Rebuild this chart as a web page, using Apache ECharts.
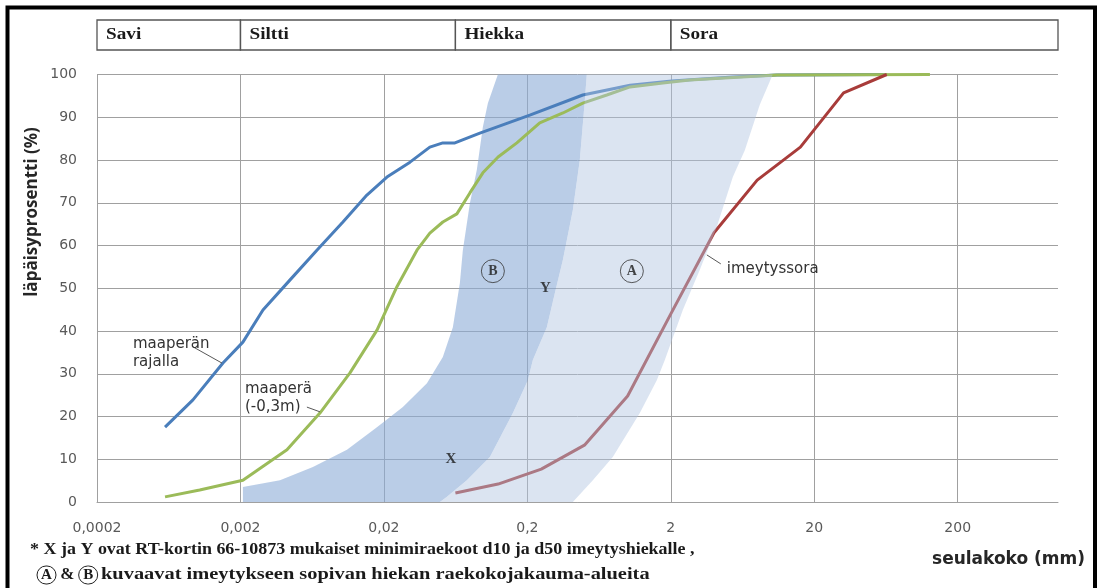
<!DOCTYPE html>
<html>
<head>
<meta charset="utf-8">
<script src="https://cdn.jsdelivr.net/npm/echarts@6/dist/echarts.min.js"></script>
<style>
  html, body { margin: 0; padding: 0; background: #ffffff; }
  #chart { width: 1100px; height: 588px; }
</style>
</head>
<body>
<div id="chart"></div>
<script>
// Raekokokäyrät: seulakoko (mm, log-asteikko) vs. läpäisyprosentti (%)

// x-akselin asteikko (mm)
const X_MIN = 0.0002;
const X_MAX = 1000;
const xTickLabels = ['0,0002', '0,002', '0,02', '0,2', '2', '20', '200'];

// Maalajiluokat ja niiden rajat (mm)
const soilClasses = ['Savi', 'Siltti', 'Hiekka', 'Sora'];
const classLimits = [0.0002, 0.002, 0.063, 2, 1000];

// maaperän rajalla
const rajallaSize = [0.000596, 0.000933, 0.00151, 0.00208, 0.00287, 0.00442, 0.00682, 0.01036, 0.01522, 0.0210, 0.0304, 0.0418, 0.0515, 0.0625, 0.0933, 0.208, 0.487, 1.04, 2.03, 5.41, 11.0, 64];
const rajallaPass = [17.5, 23.9, 32.5, 37.4, 44.9, 51.9, 58.9, 65.5, 71.8, 76.0, 79.5, 83.0, 84.0, 84.0, 86.3, 90.5, 95.2, 97.5, 98.5, 99.4, 99.9, 100];

// maaperä (-0,3m)
const maaperaSize = [0.000596, 0.00104, 0.00208, 0.00422, 0.00716, 0.0116, 0.0179, 0.0246, 0.0340, 0.0418, 0.0515, 0.0645, 0.0795, 0.0979, 0.125, 0.169, 0.244, 0.354, 0.487, 0.716, 1.04, 1.76, 2.71, 11.0, 128];
const maaperaPass = [1.2, 2.8, 5.1, 12.2, 20.8, 30.2, 40.2, 50.3, 58.9, 62.9, 65.5, 67.4, 72.3, 77.0, 80.7, 84.0, 88.7, 91.0, 93.3, 95.2, 97.1, 98.0, 98.7, 99.9, 100];

// imeytyssora
const soraSize = [0.063, 0.125, 0.25, 0.5, 1, 2, 4, 8, 16, 32, 64];
const soraPass = [2.1, 4.2, 7.7, 13.3, 24.8, 44, 63, 75.3, 83, 95.7, 100];

// Alue B: vasen reuna (alhaalta ylös)
const bLeftSize = [0.00208, 0.00208, 0.00377, 0.0064, 0.01105, 0.01788, 0.02713, 0.0399, 0.0515, 0.0605, 0.0677, 0.0710, 0.0795, 0.0889, 0.0979, 0.1061, 0.1246];
const bLeftPass = [0, 3.5, 5.1, 8.2, 12.2, 17.5, 22.2, 27.8, 33.9, 40.9, 51.2, 58.9, 69.9, 77.7, 87.7, 93.3, 100];
// Alue B: oikea reuna = alueen A vasen reuna (ylhäältä alas)
const bRightSize = [0.519, 0.503, 0.464, 0.415, 0.3535, 0.311, 0.2734, 0.2184, 0.2016, 0.1585, 0.1096, 0.0757, 0.055, 0.0491];
const bRightPass = [100, 94, 80, 68.3, 56.6, 48.9, 40.9, 33.2, 28.5, 20.8, 10.5, 5.1, 1.2, 0];
// Alue A: oikea reuna (ylhäältä alas)
const aRightSize = [10.27, 8.34, 6.56, 5.41, 4.18, 3.185, 2.425, 1.816, 1.597, 1.216, 0.788, 0.572, 0.415];
const aRightPass = [100, 92.9, 82.3, 76.0, 64.3, 54.3, 44.9, 33.2, 28.5, 20.8, 10.5, 5.1, 0];

// RT-kortin minimiraekoot d10 (X) ja d50 (Y)
const markerNames = ['X', 'Y'];
const markerSize = [0.0586, 0.267];
const markerPass = [10, 50];

// Alueiden tunnukset
const zoneNames = ['B', 'A'];
const zoneSize = [0.115, 1.07];
const zonePass = [54, 54];

// Käyrien nimet
const noteTexts = ['maaperän\nrajalla', 'maaperä\n(-0,3m)', 'imeytyssora'];

// ---- asettelu ----
const noteLayout = [
  { at: [0.000356, 39.1], leader: [[0.000933, 36.3], [0.001486, 32.5]] },
  { at: [0.00215, 28.5], leader: [[0.00581, 22.2], [0.00716, 21.1]] },
  { at: [4.91, 56.6], leader: [[3.564, 57.8], [4.461, 55.7]] }
];

const lx = s => Math.log10(s / X_MIN);
const pts = (sizes, pass) => sizes.map((s, i) => [lx(s), pass[i]]);

const polyB = pts(bLeftSize, bLeftPass).concat(pts(bRightSize, bRightPass));
const polyA = pts(aRightSize, aRightPass).concat(pts(bRightSize, bRightPass).reverse());
const fillB = 'rgba(140,171,215,0.6)';
const fillA = 'rgba(175,195,224,0.45)';

const chart = echarts.init(document.getElementById('chart'), null, { renderer: 'canvas' });

const gridColor = '#a0a0a0';
const labelFont = '"DejaVu Sans", Verdana, sans-serif';
const serif = '"Liberation Serif", "Times New Roman", serif';

function lineSeries(name, sizes, pass, color) {
  return {
    name, type: 'line', z: 2,
    data: pts(sizes, pass),
    showSymbol: false, symbol: 'none',
    lineStyle: { color, width: 3 },
    silent: true
  };
}

function regionSeries(name, poly, fill, z) {
  return {
    name, type: 'custom', z, silent: true,
    data: [poly[0]],
    renderItem: (params, api) => ({
      type: 'polygon',
      shape: { points: poly.map(p => api.coord(p)) },
      style: { fill }
    })
  };
}

const option = {
  backgroundColor: '#ffffff',
  animation: false,
  grid: { left: 97, right: 42, top: 74.5, bottom: 86 },
  xAxis: {
    type: 'value',
    min: 0, max: lx(X_MAX), interval: 1,
    axisLine: { show: true, lineStyle: { color: gridColor, width: 1 } },
    axisTick: { show: false },
    splitLine: { show: true, showMaxLine: false, lineStyle: { color: gridColor, width: 1 } },
    axisLabel: {
      margin: 19, color: '#595959', fontSize: 14, fontFamily: labelFont,
      formatter: v => {
        const k = Math.round(v);
        return Math.abs(v - k) < 1e-6 && k < xTickLabels.length ? xTickLabels[k] : '';
      }
    }
  },
  yAxis: {
    type: 'value', min: 0, max: 100, interval: 10,
    axisLine: { show: true, lineStyle: { color: gridColor, width: 1 } },
    axisTick: { show: false },
    splitLine: { show: true, lineStyle: { color: gridColor, width: 1 } },
    axisLabel: { margin: 20, color: '#595959', fontSize: 14, fontFamily: labelFont }
  },
  series: [
    regionSeries('alue B', polyB, fillB, 1),
    lineSeries('maaperän rajalla', rajallaSize, rajallaPass, '#4a7ebb'),
    lineSeries('maaperä (-0,3m)', maaperaSize, maaperaPass, '#9bbb59'),
    lineSeries('imeytyssora', soraSize, soraPass, '#a83c3a'),
    regionSeries('alue A', polyA, fillA, 3),
    {
      name: 'd10 ja d50', type: 'scatter', z: 5, silent: true,
      symbolSize: 1, itemStyle: { color: 'rgba(0,0,0,0)' },
      data: markerNames.map((n, i) => ({ name: n, value: [lx(markerSize[i]), markerPass[i]] })),
      label: {
        show: true, position: 'inside', formatter: '{b}',
        color: '#1a1a1a', fontFamily: serif, fontWeight: 'bold', fontSize: 15
      }
    },
    {
      name: 'alueet A ja B', type: 'scatter', z: 5, silent: true,
      symbol: 'circle', symbolSize: 23,
      itemStyle: { color: 'rgba(0,0,0,0)', borderColor: '#333', borderWidth: 1 },
      data: zoneNames.map((n, i) => ({ name: n, value: [lx(zoneSize[i]), zonePass[i]] })),
      label: {
        show: true, position: 'inside', formatter: '{b}',
        color: '#1a1a1a', fontFamily: serif, fontWeight: 'bold', fontSize: 14
      }
    },
    {
      name: 'nimet', type: 'custom', z: 6, silent: true, clip: false,
      data: noteLayout.map(n => [lx(n.at[0]), n.at[1]]),
      renderItem: (params, api) => {
        const n = noteLayout[params.dataIndex];
        const p = api.coord([lx(n.at[0]), n.at[1]]);
        const a = api.coord([lx(n.leader[0][0]), n.leader[0][1]]);
        const b = api.coord([lx(n.leader[1][0]), n.leader[1][1]]);
        return {
          type: 'group',
          children: [
            { type: 'line', shape: { x1: a[0], y1: a[1], x2: b[0], y2: b[1] },
              style: { stroke: '#444', lineWidth: 0.9 } },
            { type: 'text', x: p[0], y: p[1],
              style: { text: noteTexts[params.dataIndex], fill: '#333',
                       font: '15px ' + labelFont, lineHeight: 18,
                       align: 'left', verticalAlign: 'top' } }
          ]
        };
      }
    },
    {
      name: 'maalajit', type: 'custom', z: 6, silent: true, clip: false,
      data: soilClasses.map((c, i) => [lx(classLimits[i]), lx(classLimits[i + 1])]),
      encode: { x: [0, 1] },
      renderItem: (params, api) => {
        const i = params.dataIndex;
        const x0 = api.coord([lx(classLimits[i]), 0])[0];
        const x1 = api.coord([lx(classLimits[i + 1]), 0])[0];
        return {
          type: 'group',
          children: [
            { type: 'rect', shape: { x: x0, y: 20, width: x1 - x0, height: 30 },
              style: { fill: 'none', stroke: '#555', lineWidth: 1.3 } },
            { type: 'text', x: x0 + 9, y: 35, scaleX: 1.2,
              style: { text: soilClasses[i], fill: '#1a1a1a',
                       font: 'bold 16px ' + serif, align: 'left', verticalAlign: 'middle' } }
          ]
        };
      }
    }
  ],
  graphic: [
    { type: 'rect', silent: true, shape: { x: 7.5, y: 7.5, width: 1087.5, height: 640 },
      style: { fill: 'none', stroke: '#000', lineWidth: 4 } },
    { type: 'text', silent: true, x: 32, y: 212, rotation: Math.PI / 2,
      style: { text: 'läpäisyprosentti (%)', fill: '#262626',
               font: 'bold 17px "Open Sans", sans-serif', align: 'center', verticalAlign: 'middle' } },
    { type: 'text', silent: true, x: 1085, y: 560,
      style: { text: 'seulakoko (mm)', fill: '#262626',
               font: 'bold 17px ' + labelFont, align: 'right', verticalAlign: 'middle' } },
    { type: 'text', silent: true, x: 30, y: 550, scaleX: 1.057,
      style: { text: '* X ja Y ovat RT-kortin 66-10873 mukaiset minimiraekoot d10 ja d50 imeytyshiekalle ,',
               fill: '#1a1a1a', font: 'bold 17px ' + serif, align: 'left', verticalAlign: 'middle' } },
    { type: 'text', silent: true, x: 37, y: 575,
      style: { text: '{c|A} & {c|B}',
               fill: '#1a1a1a', font: 'bold 17px ' + serif, align: 'left', verticalAlign: 'middle',
               rich: { c: { font: 'bold 15px ' + serif, borderColor: '#222', borderWidth: 1,
                            borderRadius: 10, width: 17, height: 17, align: 'center',
                            padding: [1, 1, 0, 1] } } } },
    { type: 'text', silent: true, x: 101, y: 575, scaleX: 1.2,
      style: { text: 'kuvaavat imeytykseen sopivan hiekan raekokojakauma-alueita',
               fill: '#1a1a1a', font: 'bold 17px ' + serif, align: 'left', verticalAlign: 'middle' } }
  ]
};

chart.setOption(option);
</script>
</body>
</html>
